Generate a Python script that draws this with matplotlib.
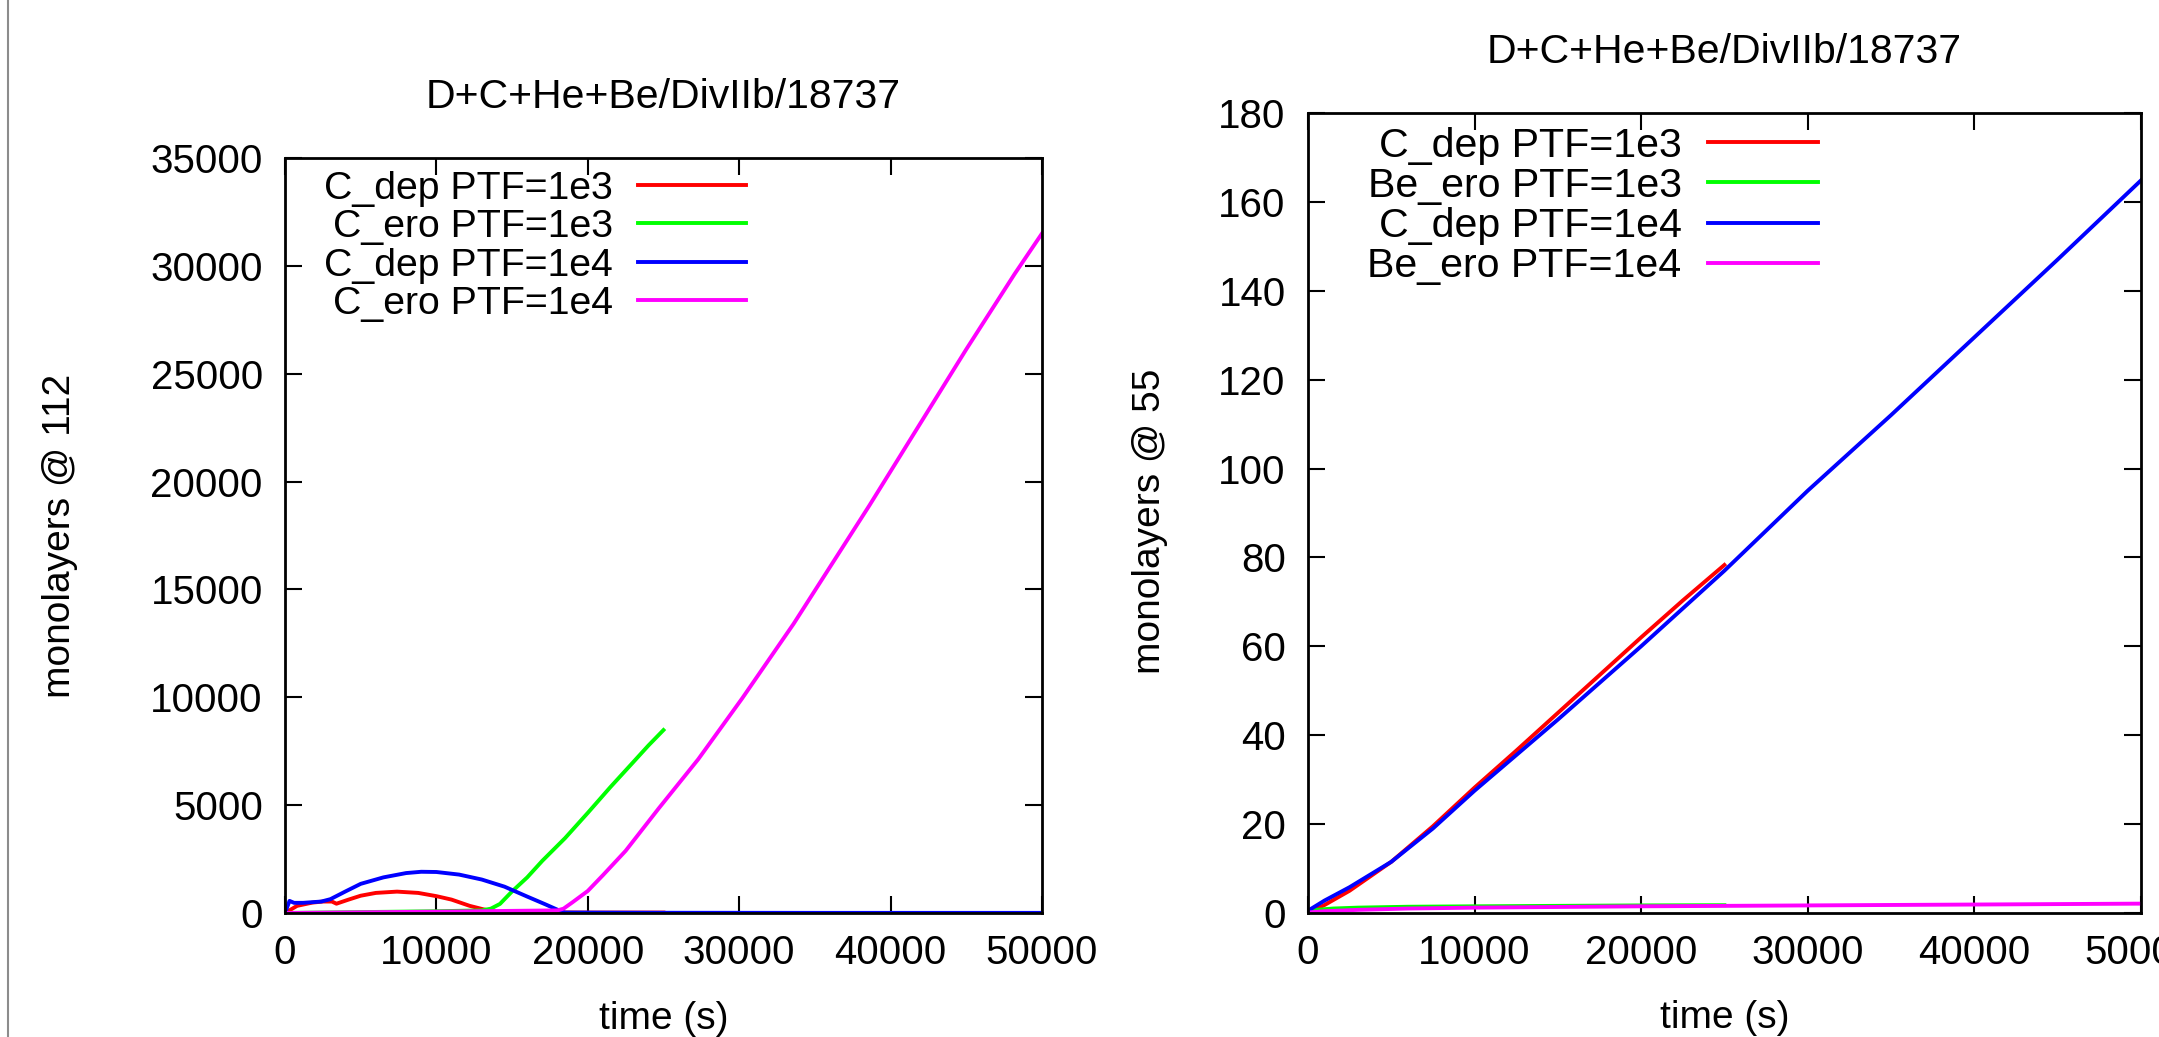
import matplotlib
matplotlib.use('Agg')
import matplotlib.pyplot as plt
from matplotlib.lines import Line2D

plt.rcParams['font.family'] = ['Liberation Sans', 'DejaVu Sans']

TITLE = 'D+C+He+Be/DivIIb/18737'

# --- left panel: monolayers @ 112 ---
l_red_t = [0, 800, 1800, 2500, 3100, 3400, 4200, 5000, 6000, 7400, 8800, 10000, 11000, 12200, 13100, 14000, 20000, 25000]
l_red_y = [0, 330, 480, 530, 530, 430, 620, 800, 930, 990, 930, 780, 620, 330, 170, 40, 20, 20]

l_green_t = [0, 5000, 10000, 13000, 13600, 14200, 15000, 16000, 17000, 18500, 20000, 21500, 23000, 24000, 25000]
l_green_y = [0, 40, 80, 120, 200, 420, 1000, 1650, 2420, 3470, 4640, 5840, 6990, 7760, 8480]

l_blue_t = [0, 300, 600, 1200, 2400, 3000, 4000, 5000, 6500, 8000, 9000, 10000, 11500, 13000, 14500, 16000, 17200, 18000, 18500, 25000, 35000, 50000]
l_blue_y = [0, 560, 470, 470, 530, 640, 1000, 1350, 1650, 1850, 1910, 1900, 1780, 1550, 1220, 760, 400, 150, 20, 10, 5, 5]

l_mag_t = [0, 10000, 18000, 18400, 19000, 20000, 21000, 22500, 24700, 27300, 30200, 33600, 38600, 41800, 45000, 48200, 50000]
l_mag_y = [0, 60, 120, 200, 500, 1020, 1750, 2880, 4860, 7130, 9950, 13410, 18890, 22510, 26130, 29630, 31500]

# --- right panel: monolayers @ 55 ---
r_red_t = [0, 1000, 2500, 5000, 7500, 10000, 12500, 15000, 17500, 20000, 22500, 25000]
r_red_y = [0, 1.8, 5.0, 11.5, 19.5, 28.2, 36.5, 45.0, 53.5, 62.0, 70.3, 78.3]

r_green_t = [0, 500, 1500, 3000, 6000, 10000, 15000, 20000, 25000]
r_green_y = [0.2, 0.7, 1.0, 1.2, 1.4, 1.5, 1.6, 1.7, 1.75]

r_blue_t = [0, 1000, 2500, 5000, 7500, 10000, 15000, 20000, 25000, 30000, 35000, 40000, 45000, 50000]
r_blue_y = [0.5, 2.8, 5.8, 11.5, 19.0, 27.5, 43.5, 60.0, 77.0, 95.0, 112.0, 129.5, 147.0, 164.8]

r_mag_t = [0, 1000, 3000, 6000, 10000, 20000, 30000, 40000, 50000]
r_mag_y = [0.1, 0.4, 0.7, 1.0, 1.2, 1.5, 1.7, 1.9, 2.1]

left_labels = ['C_dep PTF=1e3', 'C_ero PTF=1e3', 'C_dep PTF=1e4', 'C_ero PTF=1e4']
right_labels = ['C_dep PTF=1e3', 'Be_ero PTF=1e3', 'C_dep PTF=1e4', 'Be_ero PTF=1e4']
colors = ['#ff0000', '#00ff00', '#0000ff', '#ff00ff']

fig = plt.figure(figsize=(21.59, 10.37), dpi=100)
ax1 = fig.add_axes([0.132, 0.1196, 0.3506, 0.728])
ax2 = fig.add_axes([0.6058, 0.1196, 0.3858, 0.7715])

# thin grey rule on the left edge
fig.add_artist(Line2D([0.0035, 0.0035], [0, 1], color='0.55', lw=1.5))

left_series = [(l_red_t, l_red_y), (l_green_t, l_green_y), (l_blue_t, l_blue_y), (l_mag_t, l_mag_y)]
right_series = [(r_red_t, r_red_y), (r_green_t, r_green_y), (r_blue_t, r_blue_y), (r_mag_t, r_mag_y)]

for (t, y), c, lab in zip(left_series, colors, left_labels):
    ax1.plot(t, y, color=c, lw=2.8, label=lab)
for (t, y), c, lab in zip(right_series, colors, right_labels):
    ax2.plot(t, y, color=c, lw=2.8, label=lab)

ax1.set_xlim(0, 50000)
ax1.set_ylim(0, 35000)
ax1.set_yticks(range(0, 35001, 5000))
ax2.set_xlim(0, 50000)
ax2.set_ylim(0, 180)
ax2.set_yticks(range(0, 181, 20))

for ax in (ax1, ax2):
    ax.set_xticks(range(0, 50001, 10000))
    ax.tick_params(direction='in', top=True, right=True, length=12, width=1.5, labelsize=29)
    ax.tick_params(axis='y', pad=16)
    ax.tick_params(axis='x', pad=15)
    for s in ax.spines.values():
        s.set_linewidth(2)
    ax.set_xlabel('time (s)', fontsize=28)
    ax.set_title(TITLE, fontsize=29.5, pad=36)

ax1.set_ylabel('monolayers @ 112', fontsize=28)
ax1.yaxis.set_label_coords(-0.273, 0.5)
ax1.xaxis.set_label_coords(0.5, -0.116)
ax2.set_ylabel('monolayers @ 55', fontsize=28)
ax2.yaxis.set_label_coords(-0.168, 0.49)
ax2.xaxis.set_label_coords(0.5, -0.109)

ax1.legend(loc='upper right', bbox_to_anchor=(0.609, 0.983), frameon=False, markerfirst=False,
           fontsize=28.3, handlelength=2.75, handletextpad=0.64, labelspacing=0.06,
           borderpad=0, borderaxespad=0)
ax2.legend(loc='upper right', bbox_to_anchor=(0.612, 0.983), frameon=False, markerfirst=False,
           fontsize=29.6, handlelength=2.68, handletextpad=0.63, labelspacing=0.056,
           borderpad=0, borderaxespad=0)

fig.savefig('out.png', dpi=100)
